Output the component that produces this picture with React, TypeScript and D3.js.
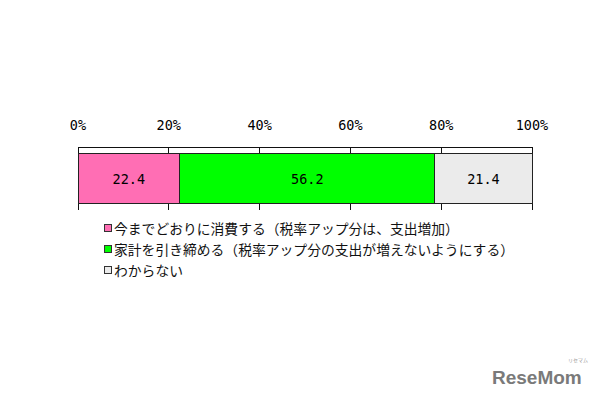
import { useEffect, useRef } from "react";
import * as d3 from "d3";

const CATEGORIES = [
  "今までどおりに消費する（税率アップ分は、支出増加）",
  "家計を引き締める（税率アップ分の支出が増えないようにする）",
  "わからない",
];
const VALUES = [22.4, 56.2, 21.4];
const COLORS = ["#ff6eb4", "#00ff00", "#ebebeb"];
const TICKS = [0, 20, 40, 60, 80, 100];

const NUM_FONT = "'DejaVu Sans Mono', monospace";
const JP_FONT = "'Noto Sans CJK JP', sans-serif";

export default function App() {
  const ref = useRef<SVGSVGElement | null>(null);

  useEffect(() => {
    const svg = d3.select(ref.current);
    svg.selectAll("*").remove();

    const x = d3.scaleLinear().domain([0, 100]).range([78, 532]);
    const frameTop = 147;
    const barTop = 153;
    const barBottom = 203;
    const tickBottom = 210;

    // stacked segments: start offsets from the values
    const starts = VALUES.map((_, i) => d3.sum(VALUES.slice(0, i)));

    // tick labels above the frame
    svg
      .append("g")
      .selectAll("text")
      .data(TICKS)
      .join("text")
      .attr("x", (d) => x(d))
      .attr("y", 125)
      .attr("text-anchor", "middle")
      .attr("dominant-baseline", "central")
      .attr("font-family", NUM_FONT)
      .attr("font-size", 13.5)
      .attr("fill", "#000")
      .text((d) => `${d}%`);

    // grid lines, mostly hidden behind the bar
    svg
      .append("g")
      .selectAll("line")
      .data(TICKS)
      .join("line")
      .attr("x1", (d) => x(d))
      .attr("x2", (d) => x(d))
      .attr("y1", frameTop)
      .attr("y2", tickBottom)
      .attr("stroke", "#111")
      .attr("shape-rendering", "crispEdges");

    svg
      .append("line")
      .attr("x1", x(0))
      .attr("x2", x(100))
      .attr("y1", frameTop)
      .attr("y2", frameTop)
      .attr("stroke", "#111")
      .attr("shape-rendering", "crispEdges");

    const seg = svg.append("g").selectAll("g").data(VALUES).join("g");
    seg
      .append("rect")
      .attr("x", (_, i) => x(starts[i]))
      .attr("y", barTop)
      .attr("width", (d) => x(d) - x(0))
      .attr("height", barBottom - barTop)
      .attr("fill", (_, i) => COLORS[i])
      .attr("stroke", "#222")
      .attr("shape-rendering", "crispEdges");
    seg
      .append("text")
      .attr("x", (d, i) => x(starts[i] + d / 2))
      .attr("y", (barTop + barBottom) / 2 + 1)
      .attr("text-anchor", "middle")
      .attr("dominant-baseline", "central")
      .attr("font-family", NUM_FONT)
      .attr("font-size", 13.5)
      .attr("fill", "#000")
      .text((d) => d.toFixed(1));

    // legend
    const legend = svg
      .append("g")
      .selectAll("g")
      .data(CATEGORIES)
      .join("g")
      .attr("transform", (_, i) => `translate(104,${228 + i * 21})`);
    legend
      .append("rect")
      .attr("x", 0.5)
      .attr("y", -3.5)
      .attr("width", 7)
      .attr("height", 7)
      .attr("fill", (_, i) => COLORS[i])
      .attr("stroke", "#333");
    legend
      .append("text")
      .attr("x", 10)
      .attr("y", 0)
      .attr("dominant-baseline", "central")
      .attr("font-family", JP_FONT)
      .attr("font-size", 13.8)
      .attr("fill", "#111")
      .text((d) => d);

    // watermark
    svg
      .append("text")
      .attr("x", 492)
      .attr("y", 384)
      .attr("font-family", "'Liberation Sans', Arial, sans-serif")
      .attr("font-weight", "bold")
      .attr("font-size", 19)
      .attr("fill", "#7a7a7a")
      .text("ReseMom");
    svg
      .append("text")
      .attr("x", 568)
      .attr("y", 362)
      .attr("font-family", JP_FONT)
      .attr("font-size", 5)
      .attr("fill", "#999")
      .text("リセマム");
  }, []);

  return (
    <svg
      ref={ref}
      width={600}
      height={400}
      style={{ position: "absolute", left: 0, top: 0, background: "#fff" }}
    />
  );
}
